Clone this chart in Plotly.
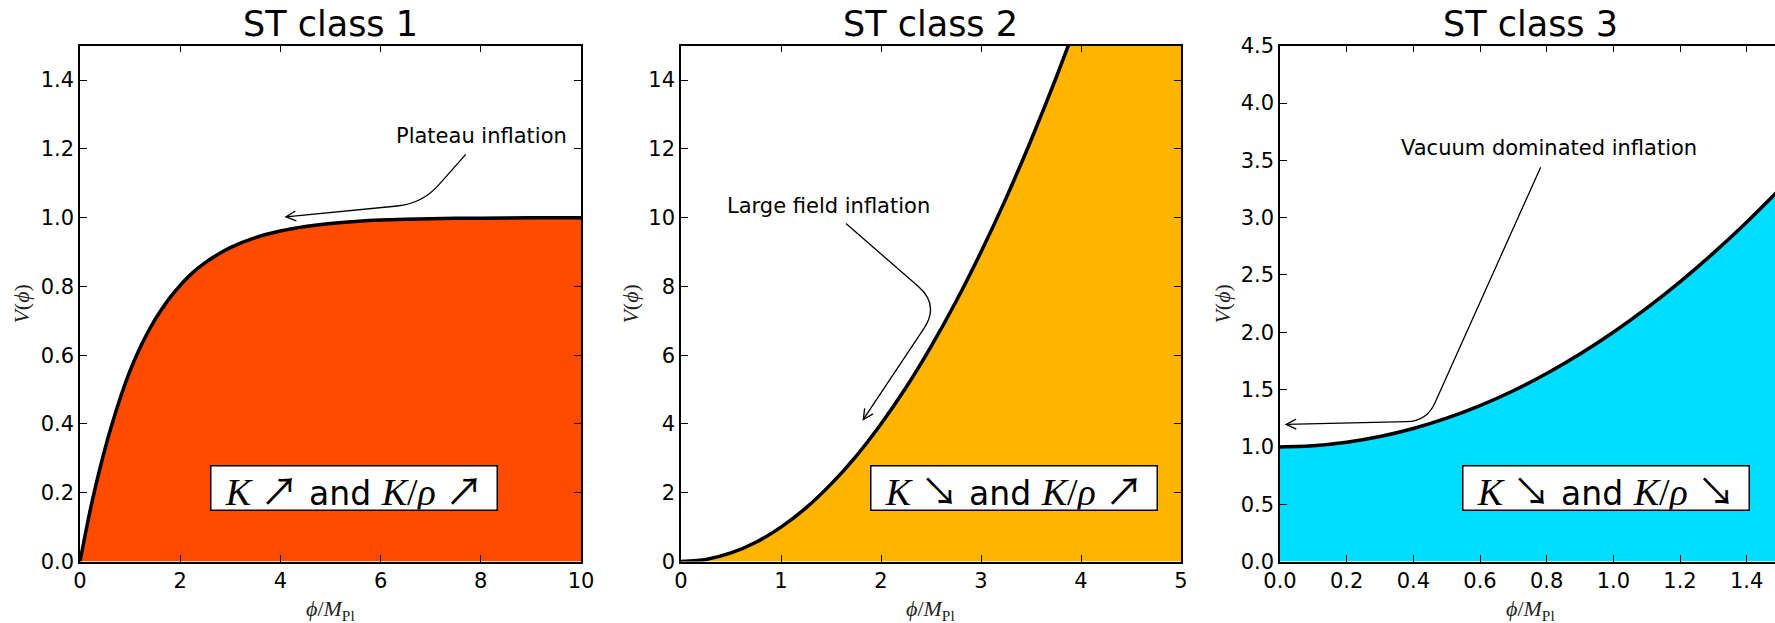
import plotly.graph_objects as go

# ---------------- data ----------------
phi1 = [0, 0.1, 0.2, 0.3, 0.4, 0.5, 0.6, 0.8, 1.0, 1.2, 1.4, 1.6, 1.8, 2.0, 2.25, 2.5,
        2.75, 3.0, 3.5, 4.0, 4.5, 5.0, 5.5, 6.0, 7.0, 8.0, 9.0, 10.0]
V1 = [0.0, 0.075, 0.147, 0.212, 0.272, 0.328, 0.380, 0.474, 0.555, 0.622, 0.679, 0.727,
      0.768, 0.803, 0.840, 0.869, 0.893, 0.913, 0.942, 0.961, 0.974, 0.983, 0.989, 0.993,
      0.997, 0.9985, 0.9994, 0.9997]

phi2 = [0, 0.25, 0.5, 0.75, 1.0, 1.25, 1.5, 1.75, 2.0, 2.25, 2.5, 2.75, 3.0, 3.25, 3.5,
        3.75, 4.0, 4.25, 4.5, 4.75, 5.0]
V2 = [0.0, 0.06, 0.25, 0.56, 1.0, 1.56, 2.25, 3.06, 4.0, 5.06, 6.25, 7.56, 9.0, 10.56,
      12.25, 14.06, 16.0, 18.06, 20.25, 22.56, 25.0]

phi3 = [0.0, 0.1, 0.2, 0.3, 0.4, 0.5, 0.6, 0.7, 0.8, 0.9, 1.0, 1.1, 1.2, 1.3, 1.4, 1.5]
V3 = [1.00, 1.01, 1.04, 1.09, 1.16, 1.25, 1.36, 1.49, 1.64, 1.81, 2.00, 2.21, 2.44, 2.69,
      2.96, 3.25]

titles = ["ST class 1", "ST class 2", "ST class 3"]
fill_colors = ["#FF4B00", "#FFB400", "#00DDFF"]
x_ranges = [[0, 10], [0, 5], [0, 1.5]]
y_ranges = [[0, 1.5], [0, 15], [0, 4.5]]
x_dticks = [2, 1, 0.2]
y_dticks = [0.2, 2, 0.5]
x_formats = ["d", "d", ".1f"]
y_formats = [".1f", "d", ".1f"]

box_texts = [("↗", "↗"), ("↘", "↗"), ("↘", "↘")]
box_pos = [(5.47, 0.2145), (3.325, 2.146), (0.979, 0.644)]

ann_texts = ["Plateau inflation", "Large field inflation", "Vacuum dominated inflation"]
ann_text_pos = [(8.01, 1.237), (1.47, 10.34), (0.807, 3.605)]
# arrow geometry in data units: start, corner, tip, corner radius (px)
ann_start = [(7.70, 1.184), (1.65, 9.83), (0.782, 3.44)]
ann_corner = [(6.83, 1.041), (2.585, 7.46), (0.440, 1.224)]
ann_tip = [(4.11, 1.002), (1.823, 4.13), (0.0186, 1.196)]
ann_radius = [25, 28, 20]

# ---------------- layout geometry ----------------
W, H = 1775, 623
TOP, BOTTOM = 45.7, 561.5
PANEL_PX = [(80, 581), (681, 1181), (1280, 1780)]

def to_px(i, x, y):
    x0, x1 = PANEL_PX[i]
    xr, yr = x_ranges[i], y_ranges[i]
    px = x0 + (x - xr[0]) / (xr[1] - xr[0]) * (x1 - x0)
    py = BOTTOM - (y - yr[0]) / (yr[1] - yr[0]) * (BOTTOM - TOP)
    return px, py

def to_data(i, px, py):
    x0, x1 = PANEL_PX[i]
    xr, yr = x_ranges[i], y_ranges[i]
    x = xr[0] + (px - x0) / (x1 - x0) * (xr[1] - xr[0])
    y = yr[0] + (BOTTOM - py) / (BOTTOM - TOP) * (yr[1] - yr[0])
    return x, y

fig = go.Figure()
curves = [(phi1, V1), (phi2, V2), (phi3, V3)]
FONT = "DejaVu Sans"
SERIF = "Liberation Serif"
PHI = "ϕ"

for i, (px_, py_) in enumerate(curves):
    sfx = "" if i == 0 else str(i + 1)
    fig.add_trace(go.Scatter(
        x=px_, y=py_, mode="lines", fill="tozeroy", fillcolor=fill_colors[i],
        line=dict(color="black", width=3.5, shape="spline", smoothing=0.6),
        xaxis="x" + sfx, yaxis="y" + sfx, showlegend=False, hoverinfo="skip"))

layout = dict(width=W, height=H,
              margin=dict(l=0, r=0, t=0, b=0, pad=0, autoexpand=False),
              paper_bgcolor="white", plot_bgcolor="white", showlegend=False)
shapes, annotations = [], []

ydom = [1 - BOTTOM / H, 1 - TOP / H]
for i in range(3):
    sfx = "" if i == 0 else str(i + 1)
    x0, x1 = PANEL_PX[i]
    xr = list(x_ranges[i])
    dom_end = min(x1, W)
    if x1 > W:
        xr[1] = xr[0] + (xr[1] - xr[0]) * (W - x0) / (x1 - x0)
    axis_common = dict(showgrid=False, zeroline=False, showline=True, linecolor="black",
                       linewidth=1.5, ticks="inside", ticklen=7, tickwidth=1,
                       tickcolor="black", automargin=False,
                       tickfont=dict(family=FONT, size=21, color="black"))
    layout["xaxis" + sfx] = dict(domain=[x0 / W, dom_end / W], range=xr, dtick=x_dticks[i],
                                 tick0=0, tickformat=x_formats[i],
                                 mirror="ticks", anchor="y" + sfx, **axis_common)
    layout["yaxis" + sfx] = dict(domain=ydom, range=y_ranges[i], dtick=y_dticks[i], tick0=0,
                                 tickformat=y_formats[i],
                                 mirror="ticks" if x1 <= W else False,
                                 anchor="x" + sfx, **axis_common)
    xref, yref = "x" + sfx, "y" + sfx
    cx = (x0 + x1) / 2

    # title
    annotations.append(dict(text=titles[i], xref="paper", yref="paper", x=cx / W,
                            y=1 - 24 / H, xanchor="center", yanchor="middle", showarrow=False,
                            font=dict(family=FONT, size=35, color="black")))
    # x label
    annotations.append(dict(text="<i>" + PHI + "</i>/<i>M</i><sub>Pl</sub>", xref="paper",
                            yref="paper", x=cx / W, y=1 - 610 / H, xanchor="center",
                            yanchor="middle", showarrow=False,
                            font=dict(family=SERIF, size=22, color="#222")))
    # y label
    ylab_x = [22, 631, 1223][i]
    annotations.append(dict(text="<i>V</i>(<i>" + PHI + "</i>)", xref="paper", yref="paper",
                            x=ylab_x / W, y=1 - 303.6 / H, xanchor="center", yanchor="middle",
                            textangle=-90, showarrow=False,
                            font=dict(family=SERIF, size=22, color="#222")))
    # boxed label
    a1, a2 = box_texts[i]
    sp = "<span style='font-family:Liberation Serif;font-size:38px'>"
    ar = "<span style='font-family:Noto Sans CJK JP;font-size:38px'>"
    btxt = (sp + "<i>K</i> </span>" + ar + a1 + "</span> and " + sp +
            "<i>K</i>/<i>ρ</i> </span>" + ar + a2 + "</span>")
    annotations.append(dict(text=btxt, xref=xref, yref=yref, x=box_pos[i][0], y=box_pos[i][1],
                            xanchor="center", yanchor="middle", showarrow=False,
                            bgcolor="white", bordercolor="black", borderwidth=1.5, borderpad=0,
                            width=285, height=43,
                            font=dict(family=FONT, size=33, color="black")))
    # annotation text
    annotations.append(dict(text=ann_texts[i], xref=xref, yref=yref, x=ann_text_pos[i][0],
                            y=ann_text_pos[i][1], xanchor="center", yanchor="middle",
                            showarrow=False, font=dict(family=FONT, size=21, color="black")))
    # arrow path with rounded corner
    S = to_px(i, *ann_start[i])
    C = to_px(i, *ann_corner[i])
    T = to_px(i, *ann_tip[i])
    r = ann_radius[i]

    def along(a, b, dist):
        dx, dy = b[0] - a[0], b[1] - a[1]
        L = (dx * dx + dy * dy) ** 0.5
        return (a[0] + dx / L * dist, a[1] + dy / L * dist)

    P1 = along(C, S, r)
    P2 = along(C, T, r)
    pts = [to_data(i, *p) for p in (S, P1, C, P2, T)]
    path = "M {0},{1} L {2},{3} Q {4},{5} {6},{7} L {8},{9}".format(
        pts[0][0], pts[0][1], pts[1][0], pts[1][1], pts[2][0], pts[2][1],
        pts[3][0], pts[3][1], pts[4][0], pts[4][1])
    shapes.append(dict(type="path", path=path, xref=xref, yref=yref,
                       line=dict(color="black", width=1.3)))
    # open arrowhead
    dx, dy = T[0] - P2[0], T[1] - P2[1]
    L = (dx * dx + dy * dy) ** 0.5
    ux, uy = dx / L, dy / L
    hl, hw = 10, 5
    H1 = (T[0] - hl * ux - hw * uy, T[1] - hl * uy + hw * ux)
    H2 = (T[0] - hl * ux + hw * uy, T[1] - hl * uy - hw * ux)
    hp = [to_data(i, *p) for p in (H1, T, H2)]
    shapes.append(dict(type="path", xref=xref, yref=yref,
                       path="M {0},{1} L {2},{3} L {4},{5}".format(
                           hp[0][0], hp[0][1], hp[1][0], hp[1][1], hp[2][0], hp[2][1]),
                       line=dict(color="black", width=1.3)))

layout["shapes"] = shapes
layout["annotations"] = annotations
fig.update_layout(**layout)
fig.write_html("out.html")
